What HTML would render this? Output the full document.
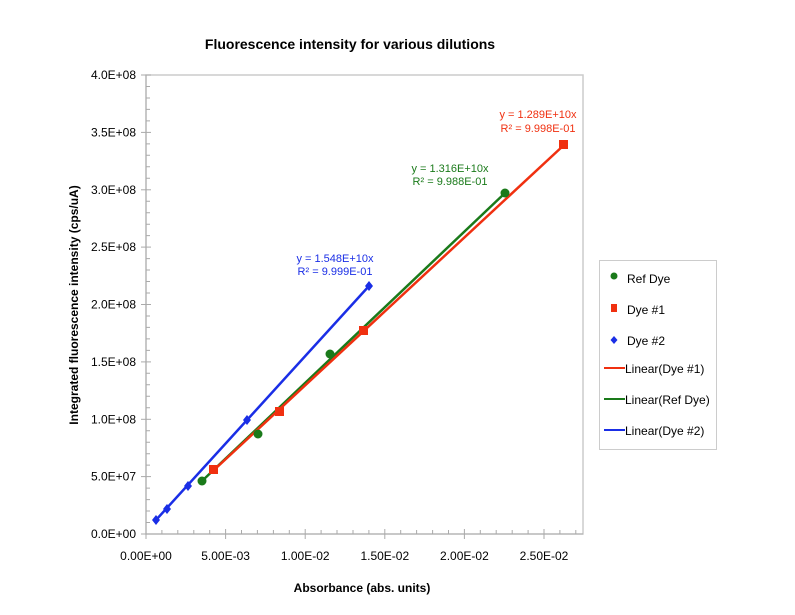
<!DOCTYPE html>
<html><head><meta charset="utf-8"><style>body{margin:0;background:#fff}svg{display:block}</style></head><body>
<svg width="795" height="615" xmlns="http://www.w3.org/2000/svg" font-family="Liberation Sans, sans-serif">
<rect width="795" height="615" fill="#fff"/>
<text x="350" y="49" text-anchor="middle" font-size="14" font-weight="bold">Fluorescence intensity for various dilutions</text>
<rect x="146" y="75" width="437" height="459" fill="none" stroke="#ccc" stroke-width="1.5"/>
<g stroke="#aaa" stroke-width="1">
<line x1="146" y1="75" x2="146" y2="534"/>
<line x1="146" y1="534" x2="583" y2="534"/>
<line x1="141" y1="75" x2="151" y2="75"/><line x1="141" y1="132.4" x2="151" y2="132.4"/><line x1="141" y1="189.8" x2="151" y2="189.8"/><line x1="141" y1="247.1" x2="151" y2="247.1"/><line x1="141" y1="304.5" x2="151" y2="304.5"/><line x1="141" y1="361.9" x2="151" y2="361.9"/><line x1="141" y1="419.3" x2="151" y2="419.3"/><line x1="141" y1="476.6" x2="151" y2="476.6"/><line x1="141" y1="534" x2="151" y2="534"/>
<line x1="146" y1="529" x2="146" y2="539"/><line x1="225.6" y1="529" x2="225.6" y2="539"/><line x1="305.2" y1="529" x2="305.2" y2="539"/><line x1="384.8" y1="529" x2="384.8" y2="539"/><line x1="464.4" y1="529" x2="464.4" y2="539"/><line x1="544" y1="529" x2="544" y2="539"/>
<path d="M146 86.5h4M146 98h4M146 109.4h4M146 120.9h4M146 143.9h4M146 155.3h4M146 166.8h4M146 178.3h4M146 201.2h4M146 212.7h4M146 224.2h4M146 235.6h4M146 258.6h4M146 270h4M146 281.5h4M146 293h4M146 316h4M146 327.4h4M146 338.9h4M146 350.4h4M146 373.3h4M146 384.8h4M146 396.3h4M146 407.8h4M146 430.7h4M146 442.2h4M146 453.7h4M146 465.1h4M146 488.1h4M146 499.6h4M146 511h4M146 522.5h4"/>
<path d="M161.9 530v4M177.8 530v4M193.8 530v4M209.7 530v4M241.5 530v4M257.4 530v4M273.4 530v4M289.3 530v4M321.1 530v4M337 530v4M353 530v4M368.9 530v4M400.7 530v4M416.6 530v4M432.6 530v4M448.5 530v4M480.3 530v4M496.2 530v4M512.2 530v4M528.1 530v4M559.9 530v4M575.8 530v4"/>
</g>
<g font-size="12" text-anchor="end" fill="#000">
<text x="136" y="79">4.0E+08</text><text x="136" y="136.4">3.5E+08</text><text x="136" y="193.8">3.0E+08</text><text x="136" y="251.1">2.5E+08</text><text x="136" y="308.5">2.0E+08</text><text x="136" y="365.9">1.5E+08</text><text x="136" y="423.3">1.0E+08</text><text x="136" y="480.6">5.0E+07</text><text x="136" y="538">0.0E+00</text>
</g>
<g font-size="12" text-anchor="middle">
<text x="146" y="560">0.00E+00</text><text x="225.6" y="560">5.00E-03</text><text x="305.2" y="560">1.00E-02</text><text x="384.8" y="560">1.50E-02</text><text x="464.4" y="560">2.00E-02</text><text x="544" y="560">2.50E-02</text>
</g>
<text x="362" y="592" text-anchor="middle" font-size="12" font-weight="bold">Absorbance (abs. units)</text>
<text transform="translate(78,305) rotate(-90)" text-anchor="middle" font-size="12" font-weight="bold">Integrated fluorescence intensity  (cps/uA)</text>
<g stroke-width="2.5">
<line x1="156" y1="520" x2="369" y2="286" stroke="#1a2ee6"/>
<line x1="202" y1="481" x2="505" y2="193" stroke="#1a7a1a"/>
<line x1="214" y1="470" x2="564" y2="145" stroke="#f03010"/>
</g>
<g fill="#1a2ee6">
<path d="M156 515l4 5-4 5-4-5z"/><path d="M167 504l4 5-4 5-4-5z"/><path d="M188 481l4 5-4 5-4-5z"/><path d="M247 415l4 5-4 5-4-5z"/><path d="M369 281l4 5-4 5-4-5z"/>
</g>
<g fill="#1a7a1a">
<circle cx="202" cy="481" r="4.5"/><circle cx="258" cy="434" r="4.5"/><circle cx="330" cy="354" r="4.5"/><circle cx="505" cy="193" r="4.5"/>
</g>
<g fill="#f03010">
<rect x="209" y="465" width="9" height="9"/><rect x="275" y="407" width="9" height="9"/><rect x="359" y="326" width="9" height="9"/><rect x="559" y="140" width="9" height="9"/>
</g>
<g font-size="11" text-anchor="middle">
<text x="335" y="262" fill="#1a2ee6">y = 1.548E+10x</text><text x="335" y="275" fill="#1a2ee6">R² = 9.999E-01</text>
<text x="450" y="172" fill="#1a7a1a">y = 1.316E+10x</text><text x="450" y="185" fill="#1a7a1a">R² = 9.988E-01</text>
<text x="538" y="118" fill="#f03010">y = 1.289E+10x</text><text x="538" y="132" fill="#f03010">R² = 9.998E-01</text>
</g>
<rect x="599.5" y="260.5" width="117" height="189" fill="none" stroke="#ccc"/>
<g font-size="12">
<circle cx="614" cy="276" r="3.5" fill="#1a7a1a"/><text x="627" y="283">Ref Dye</text>
<rect x="611" y="304" width="6" height="8" fill="#f03010"/><text x="627" y="314">Dye #1</text>
<path d="M614 336l3.5 4-3.5 4-3.5-4z" fill="#1a2ee6"/><text x="627" y="345">Dye #2</text>
<line x1="604" y1="368" x2="625" y2="368" stroke="#f03010" stroke-width="2"/><text x="625" y="373">Linear(Dye #1)</text>
<line x1="604" y1="399" x2="625" y2="399" stroke="#1a7a1a" stroke-width="2"/><text x="625" y="404">Linear(Ref Dye)</text>
<line x1="604" y1="430" x2="625" y2="430" stroke="#1a2ee6" stroke-width="2"/><text x="625" y="435">Linear(Dye #2)</text>
</g>
</svg>
</body></html>
